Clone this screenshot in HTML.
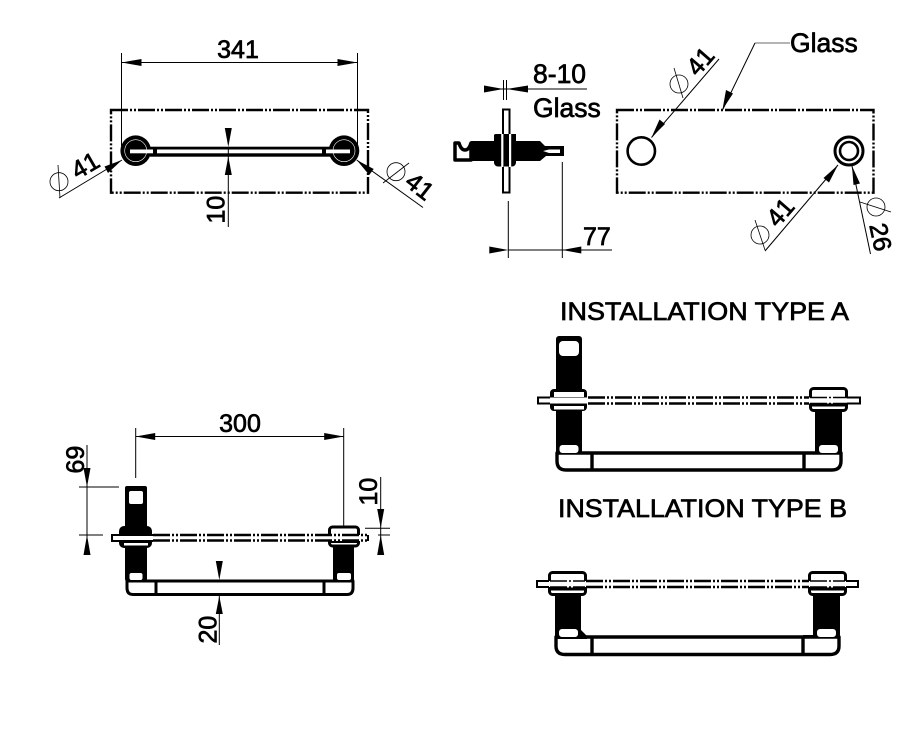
<!DOCTYPE html>
<html><head><meta charset="utf-8"><style>
html,body{margin:0;padding:0;background:#fff}
svg{display:block}
text{font-family:"Liberation Sans",sans-serif;font-size:25px;fill:#000;stroke:#000;stroke-width:.7px}
.w{font-size:26.5px}
.t{fill:none;stroke:#000;stroke-width:1}
.g{fill:none;stroke:#000;stroke-width:2.4;stroke-dasharray:17 2 2 2 2 2}
.h{fill:#fff;stroke:#000;stroke-width:3;stroke-linejoin:round}
.p{fill:none;stroke:#000;stroke-width:.8}
</style></head><body>
<svg width="918" height="737" viewBox="0 0 918 737" xmlns="http://www.w3.org/2000/svg">
<rect width="918" height="737" fill="#fff"/>

<!-- Top left view -->
<rect x="111" y="110" width="257" height="82.7" class="g"/>
<path class="t" d="M121.5 53V146M357.5 53V146M121.5 62.5H357.5"/>
<path d="M121.5 62.5l20-3.5v7zM357.5 62.5l-20-3.5v7z"/>
<text x="238" y="58" text-anchor="middle">341</text>
<circle cx="135.7" cy="150.7" r="15.3"/>
<circle cx="344" cy="150.7" r="15.3"/>
<circle cx="135.7" cy="150.7" r="11" fill="none" stroke="#fff" stroke-width=".6"/>
<circle cx="344" cy="150.7" r="11" fill="none" stroke="#fff" stroke-width=".6"/>
<rect x="150" y="146.7" width="180" height="10"/>
<rect x="130" y="149.5" width="23" height="3.8" fill="#fff"/>
<rect x="157" y="149.5" width="165" height="3.8" fill="#fff"/>
<rect x="326" y="149.5" width="24" height="3.8" fill="#fff"/>
<path class="t" d="M228.3 147V227"/>
<path d="M228.3 147l-3.5-19h7zM228.3 156.5l-3.5 18.5h7z"/>
<text transform="translate(224.5,223.5) rotate(-90)">10</text>
<path class="t" d="M59 198L122 160M356.7 160L423 207.5"/>
<path d="M122 160l-17.5 6.5 3.5 6.5zM356.7 160l12.5 15 4.500-6z"/>
<circle class="p" cx="59" cy="181.7" r="9"/><path class="p" d="M58 165L60 198"/>
<circle class="p" cx="396" cy="171.7" r="9"/><path class="p" d="M383 183L409 163"/>
<text transform="translate(85,165) rotate(-30)" text-anchor="middle" dy="9">41</text>
<text transform="translate(420,186) rotate(38)" text-anchor="middle" dy="9">41</text>

<!-- Side view -->
<rect x="503" y="109.5" width="6.5" height="83" fill="#fff" stroke="#000" stroke-width="2"/>
<path class="t" d="M503.5 80V100M506.5 80V100M484 89H587"/>
<path d="M503.5 89l-19.5-3.5v7zM506.5 89l21.5-3.5v7z"/>
<text class="w" x="533" y="83">8-10</text>
<text class="w" x="533" y="117">Glass</text>
<path d="M471 141H494V135.5Q494 134 496 134H516V141H540L545 146H564V156H546L540 161H471z"/>
<rect x="494" y="134.5" width="22" height="32" rx="4"/>
<path d="M455 143H459Q461 150 465 150Q469 150 471 143V160H455z" fill="#fff" stroke="#000" stroke-width="3.5" stroke-linejoin="round"/>
<rect x="501.2" y="134" width="2.2" height="33" fill="#fff"/>
<rect x="509" y="134" width="2.2" height="33" fill="#fff"/>
<rect x="549" y="149.5" width="11" height="3.5" fill="#fff"/>
<path d="M543 151L549 149.5V153z" fill="#fff"/>
<path class="t" d="M508.3 201V258M562.3 162V258M508.3 250H612"/>
<path d="M508.3 250l-19-3.5v7zM562.3 250l19-3.5v7z"/>
<text x="583" y="245">77</text>

<!-- Top right view -->
<rect x="617" y="110" width="256.5" height="82.7" class="g"/>
<circle cx="641.3" cy="151" r="13.7" fill="none" stroke="#000" stroke-width="2.6"/>
<circle cx="849" cy="151" r="14" fill="none" stroke="#000" stroke-width="3"/>
<circle cx="849" cy="151" r="9" fill="none" stroke="#000" stroke-width="2.6"/>
<path d="M755 43H790" fill="none" stroke="#888" stroke-width="1.2"/>
<path class="t" d="M755 43L722.5 110"/>
<path d="M722.5 109.5l3.5-19.5 7 3.5z"/>
<text class="w" x="790" y="52">Glass</text>
<path class="t" d="M719 59L651.5 137.5M765 251L838 165M870.5 254L852 166"/>
<path d="M651.5 137.5l8-18 5.5 4.5zM838 165l-9 17.5-5.5-4.5zM852 166l8 17.5-6.5 1.5z"/>
<circle class="p" cx="679" cy="84" r="9"/><path class="p" d="M674 68L683 98"/>
<circle class="p" cx="760" cy="235" r="9"/><path class="p" d="M755 220L765 250"/>
<circle class="p" cx="876" cy="207" r="9"/><path class="p" d="M860 202L891 212"/>
<text transform="translate(700,61) rotate(-49)" text-anchor="middle" dy="9">41</text>
<text transform="translate(780,212) rotate(-49)" text-anchor="middle" dy="9">41</text>
<text transform="translate(881,237) rotate(78)" text-anchor="middle" dy="9">26</text>

<!-- Bottom left view -->
<path class="t" d="M135.7 428V478M343.7 428V536M135.7 436.5H343.7"/>
<path d="M135.7 436.5l19.5-3.5v7zM343.7 436.5l-19.5-3.5v7z"/>
<text x="240" y="432" text-anchor="middle">300</text>
<path class="t" d="M87 445V555M79 487H119M79 535H103"/>
<path d="M87 487l-3.5-19h7zM87 535l-3.5 20h7z"/>
<text transform="translate(84,473.5) rotate(-90)">69</text>
<path class="t" d="M380.7 477V555M365 528.3H390M378 535H390"/>
<path d="M380.7 528l-3.5-19h7zM380.7 535l-3.5 20h7z"/>
<text transform="translate(377,505.5) rotate(-90)">10</text>
<path class="t" d="M219.3 580V645"/>
<path d="M219.3 580l-3.5-19h7zM219.3 596l-3.5 18h7z"/>
<text transform="translate(216.5,643.5) rotate(-90)">20</text>

<!-- Bottom left handle -->
<path class="h" d="M127 581H156V594.5H133Q127 594.5 127 588zM156 581H324V594.5H156zM324 581H353V588Q353 594.5 347 594.5H324z"/>
<rect x="125" y="486" width="22" height="95" rx="2"/>
<rect x="129" y="491" width="14" height="13" rx="2" fill="#fff"/>
<rect x="129.5" y="573" width="13" height="7" rx="2" fill="#fff"/>
<rect x="333" y="546" width="21" height="35"/>
<rect x="337" y="573" width="14" height="7" rx="2" fill="#fff"/>
<rect x="119" y="526" width="33" height="22" rx="5"/>
<rect x="124" y="543" width="24" height="2.5" fill="#fff"/>
<rect x="329.5" y="527" width="29" height="19" rx="3" fill="#fff" stroke="#000" stroke-width="3"/>
<path d="M329 541.5H359" stroke="#000" stroke-width="3"/>
<rect x="111.5" y="535" width="256" height="6" fill="#fff" stroke="none"/>
<path d="M153 535H368M153 540.5H368" fill="none" stroke="#000" stroke-width="2.6" stroke-dasharray="17 2 2 2 2 2"/>
<path d="M153 535H112V541H153" fill="none" stroke="#000" stroke-width="2"/>
<path d="M368 535V541" fill="none" stroke="#000" stroke-width="2"/>

<!-- Type A -->
<text x="560" y="320" textLength="289" lengthAdjust="spacingAndGlyphs">INSTALLATION TYPE A</text>
<path class="h" d="M557 453H592V470H566Q557 470 557 461zM592 453H804V470H592zM804 453H841V461Q841 470 832 470H804z" style="stroke-width:3.4"/>
<rect x="556" y="336" width="26" height="118" rx="3"/>
<rect x="559" y="341" width="20" height="15" rx="4" fill="#fff"/>
<rect x="559.5" y="445" width="19" height="8" rx="3" fill="#fff"/>
<rect x="815" y="410" width="27" height="43"/>
<rect x="819" y="445" width="19" height="8" rx="3" fill="#fff"/>
<rect x="550" y="389" width="37" height="22" rx="4"/>
<rect x="554" y="392" width="30" height="5" fill="#fff"/>
<rect x="554" y="406" width="30" height="3.5" fill="#fff"/>
<rect x="810.5" y="388.5" width="36" height="22" rx="3" fill="#fff" stroke="#000" stroke-width="3"/>
<path d="M810 405H847" stroke="#000" stroke-width="3"/>
<rect x="538" y="397.5" width="322" height="6" fill="#fff"/>
<path d="M588 397.5H809M588 403.5H809" fill="none" stroke="#000" stroke-width="2.6" stroke-dasharray="17 2 2 2 2 2"/>
<path d="M550 397.5H538V403.5H550M847 397.5H860V403.5H847" fill="none" stroke="#000" stroke-width="2"/>
<path d="M810 397.5H847M810 403.5H847" fill="none" stroke="#000" stroke-width="1.5" stroke-dasharray="17 2 2 2"/>

<!-- Type B -->
<text x="558" y="517" textLength="289" lengthAdjust="spacingAndGlyphs">INSTALLATION TYPE B</text>
<path class="h" d="M556 637H592V654.5H565Q556 654.5 556 646zM592 637H803V654.5H592zM803 637H839V646Q839 654.5 830 654.5H803z" style="stroke-width:3.4"/>
<path d="M555 593H581V630L587 636V639H555z"/>
<path d="M813 593H840V637H803V635H813z"/>
<rect x="559" y="629" width="19" height="8" rx="3" fill="#fff"/>
<rect x="817" y="629" width="19" height="8" rx="3" fill="#fff"/>
<rect x="549.5" y="572.5" width="36" height="22" rx="3" fill="#fff" stroke="#000" stroke-width="3"/>
<rect x="809.5" y="572.5" width="36" height="22" rx="3" fill="#fff" stroke="#000" stroke-width="3"/>
<path d="M549 589H586M809 589H846" stroke="#000" stroke-width="3"/>
<rect x="537" y="581" width="322" height="6" fill="#fff"/>
<path d="M586 581H809M586 587H809" fill="none" stroke="#000" stroke-width="2.6" stroke-dasharray="17 2 2 2 2 2"/>
<path d="M549 581H537V587H549M846 581H858V587H846" fill="none" stroke="#000" stroke-width="2"/>
<path d="M550 581H585M810 581H845M550 587H585M810 587H845" fill="none" stroke="#000" stroke-width="1.5" stroke-dasharray="17 2 2 2"/>
</svg>
</body></html>
